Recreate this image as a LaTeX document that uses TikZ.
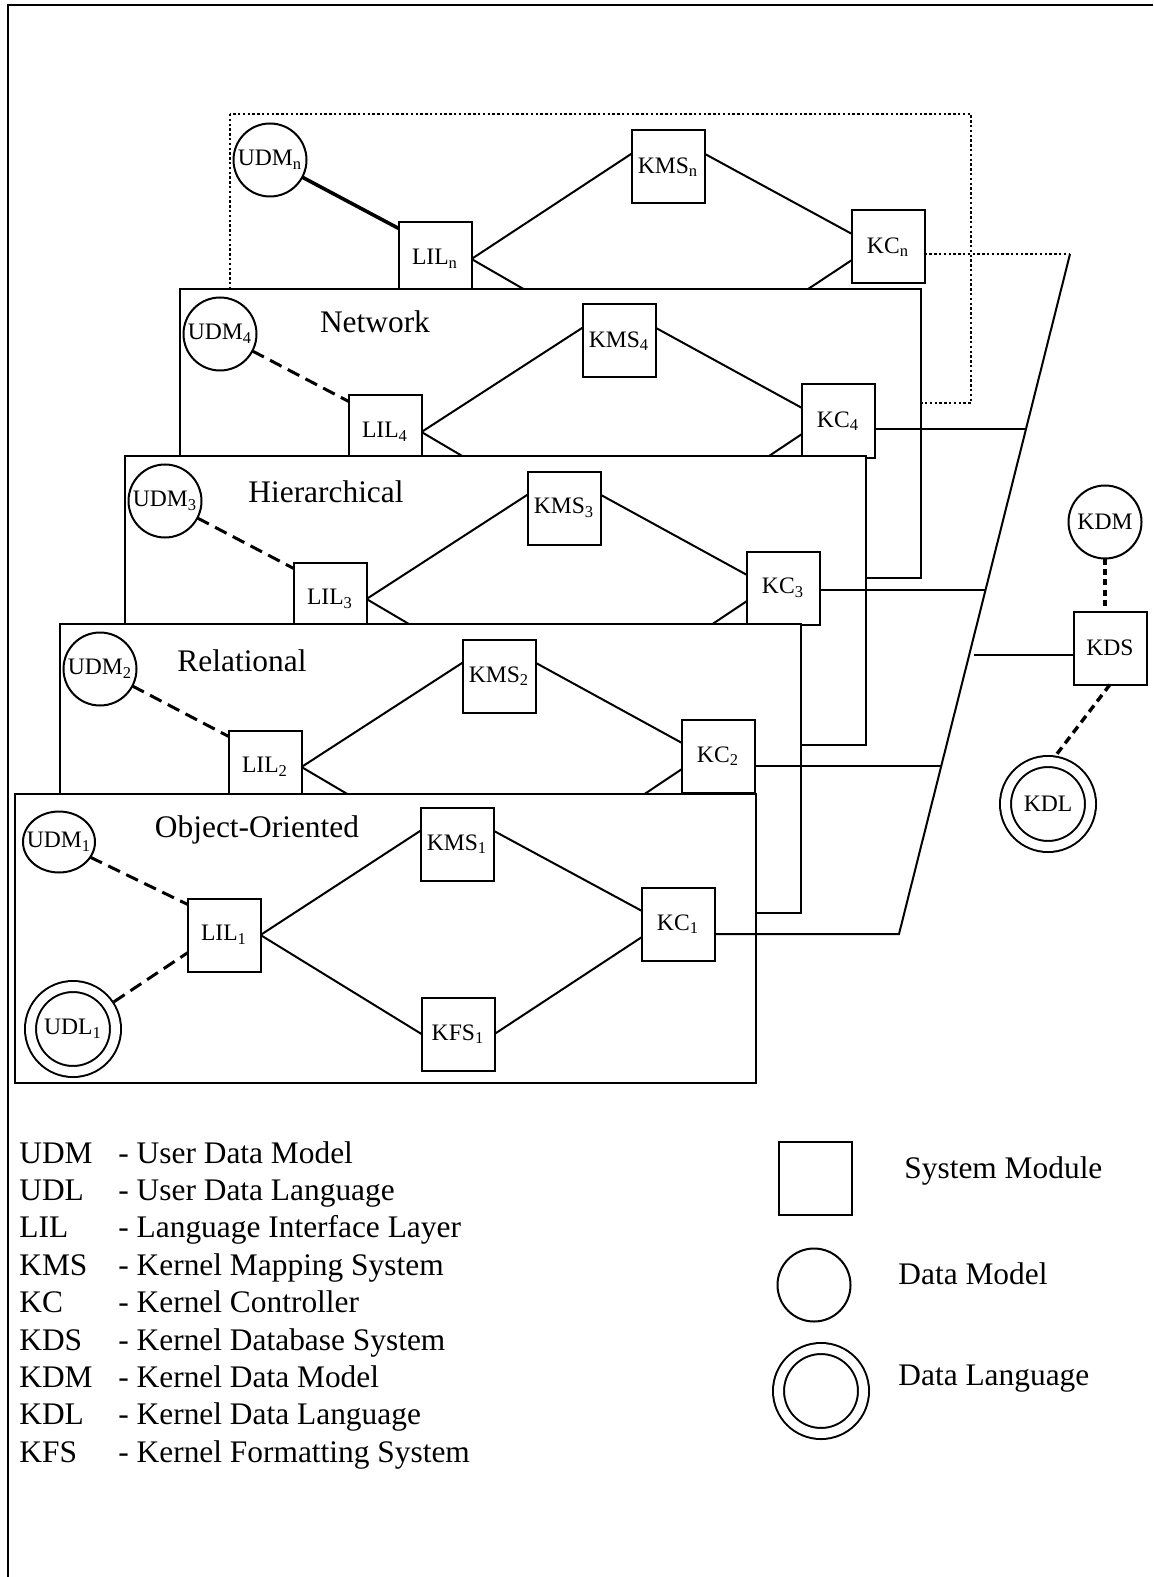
\documentclass[tikz,border=0pt]{standalone}
\usepackage{fontspec}
\setmainfont{Liberation Serif}
\usetikzlibrary{calc,shapes.geometric}
\tikzset{
    modbox/.style={draw,line width=1pt,minimum width=36.5pt,minimum height=36.5pt,
      inner sep=0pt,outer sep=0pt,font=\fontsize{11.8}{13}\selectfont},
    modelnode/.style={draw,circle,line width=1pt,minimum size=36.5pt,inner sep=0pt,
      outer sep=0pt,font=\fontsize{11.8}{13}\selectfont},
    langnode/.style={draw,circle,line width=1pt,double,double distance=4.5pt,
      minimum size=42.5pt,inner sep=0pt,outer sep=3.25pt,
      font=\fontsize{11.8}{13}\selectfont},
    layerbox/.style={draw,fill=white,line width=1pt},
    layerlabel/.style={anchor=base,inner sep=0pt,font=\fontsize{15.7}{18}\selectfont},
    legendtext/.style={anchor=base west,inner sep=0pt,font=\fontsize{15.7}{18}\selectfont},
    linkline/.style={line width=1pt},
    udmlink/.style={line width=1.5pt,dash pattern=on 6.5pt off 3.5pt},
    thicklink/.style={line width=1.8pt},
    dotline/.style={line width=0.9pt,dash pattern=on 1.2pt off 1.2pt},
    kdmlink/.style={line width=2pt,dash pattern=on 3pt off 2.2pt},
    kdllink/.style={line width=1.7pt,dash pattern=on 4pt off 2.6pt}
}
\begin{document}
\begin{tikzpicture}[x=0.5pt,y=-0.5pt]
  \useasboundingbox (0,0) rectangle (1153,1577);
  \draw[line width=1.2pt] (8,1577) -- (8,5) -- (1153,5);
  % kernel bus on the right
  \coordinate (bus1) at (899,934);
  \coordinate (bus2) at (941,766);
  \coordinate (bus3) at (985,590);
  \coordinate (bus4) at (1026,429);
  \coordinate (busn) at (1070,254);
  % layer n
  \begin{scope}[shift={(230,114)}]
    \draw[layerbox,dotline] (0,0) rectangle (741,289);
    \node[modelnode] (udmn) at (40,46) {UDM\textsubscript{n}};
    \node[modbox] (liln) at (205,145) {LIL\textsubscript{n}};
    \node[modbox] (kmsn) at (438,53) {KMS\textsubscript{n}};
    \node[modbox] (kcn) at (658,133) {KC\textsubscript{n}};
    \coordinate (kfswn) at (406,240);
    \coordinate (kfsen) at (480,240);
  \end{scope}
  \draw[thicklink] (udmn) -- (liln.140);
  \draw[linkline] (liln.east) -- (kmsn.160) (kmsn.20) -- (kcn.160)
    (liln.east) -- (kfswn) (kfsen) -- (kcn.200);
  \draw[dotline] (kcn.east |- busn) -- (busn);
  % layers 4, 3, 2
  \foreach \i/\x/\y/\ttl/\lx/\ly in {4/180/289/Network/195/44,
      3/125/456/Hierarchical/201/46, 2/60/624/Relational/182/47} {
    \begin{scope}[shift={(\x,\y)}]
      \draw[layerbox] (0,0) rectangle (741,289);
      \node[layerlabel] (title\i) at (\lx,\ly) {\ttl};
      \node[modelnode] (udm\i) at (40,45) {UDM\textsubscript{\i}};
      \node[modbox] (lil\i) at (205,143) {LIL\textsubscript{\i}};
      \node[modbox] (kms\i) at (439,52) {KMS\textsubscript{\i}};
      \node[modbox] (kc\i) at (658,132) {KC\textsubscript{\i}};
      \coordinate (kfsw\i) at (406,240);
      \coordinate (kfse\i) at (480,240);
    \end{scope}
    \draw[udmlink] (udm\i) -- (lil\i.140);
    \draw[linkline] (lil\i.east) -- (kms\i.160) (kms\i.20) -- (kc\i.160)
      (lil\i.east) -- (kfsw\i) (kfse\i) -- (kc\i.200);
    \draw[linkline] (kc\i.east |- bus\i) -- (bus\i);
  }
  % layer 1
  \begin{scope}[shift={(15,794)}]
    \draw[layerbox] (0,0) rectangle (741,289);
    \node[layerlabel] (title1) at (242,43) {Object-Oriented};
    \node[modelnode,ellipse,minimum width=36pt,minimum height=30.5pt] (udm1) at (44,48)
      {\makebox[0pt]{UDM\textsubscript{1}}};
    \node[langnode] (udl1) at (58,235) {UDL\textsubscript{1}};
    \node[modbox] (lil1) at (209,141) {LIL\textsubscript{1}};
    \node[modbox] (kms1) at (442,50) {KMS\textsubscript{1}};
    \node[modbox] (kfs1) at (443,240) {KFS\textsubscript{1}};
    \node[modbox] (kc1) at (663,130) {KC\textsubscript{1}};
  \end{scope}
  \draw[udmlink] (udm1) -- (lil1.140) (udl1) -- (lil1.206);
  \draw[linkline] (lil1.east) -- (kms1.160) (kms1.20) -- (kc1.160)
    (lil1.east) -- (kfs1.west) (kfs1.east) -- (kc1.200);
  \draw[linkline] (kc1.east |- bus1) -- (bus1) -- (busn);
  % kernel database system
  \node[modelnode] (kdm) at (1105,522) {KDM};
  \node[modbox] (kds) at (1110,648) {KDS};
  \node[langnode] (kdl) at (1048,804) {KDL};
  \coordinate (kdstap) at (974,655);
  \draw[linkline] (kdstap) -- (kdstap -| kds.west);
  \draw[kdmlink] (kdm.south) -- (kdm.south |- kds.north);
  \draw[kdllink] (kds.south) -- (kdl.81);
  % legend
  \foreach \k/\abbr/\desc in {0/UDM/User Data Model, 1/UDL/User Data Language,
      2/LIL/Language Interface Layer, 3/KMS/Kernel Mapping System,
      4/KC/Kernel Controller, 5/KDS/Kernel Database System,
      6/KDM/Kernel Data Model, 7/KDL/Kernel Data Language,
      8/KFS/Kernel Formatting System} {
    \node[legendtext] (abbr\k) at (19,{1163+37.4*\k}) {\abbr};
    \node[legendtext] (desc\k) at (118,{1163+37.4*\k}) {- \desc};
  }
  \node[modbox] (keymod) at (815,1178) {};
  \node[legendtext] (keymodtext) at (904,1178) {System Module};
  \node[modelnode] (keymodel) at (814,1285) {};
  \node[legendtext] (keymodeltext) at (898,1284) {Data Model};
  \node[langnode] (keylang) at (821,1391) {};
  \node[legendtext] (keylangtext) at (898,1385) {Data Language};
\end{tikzpicture}
\end{document}
